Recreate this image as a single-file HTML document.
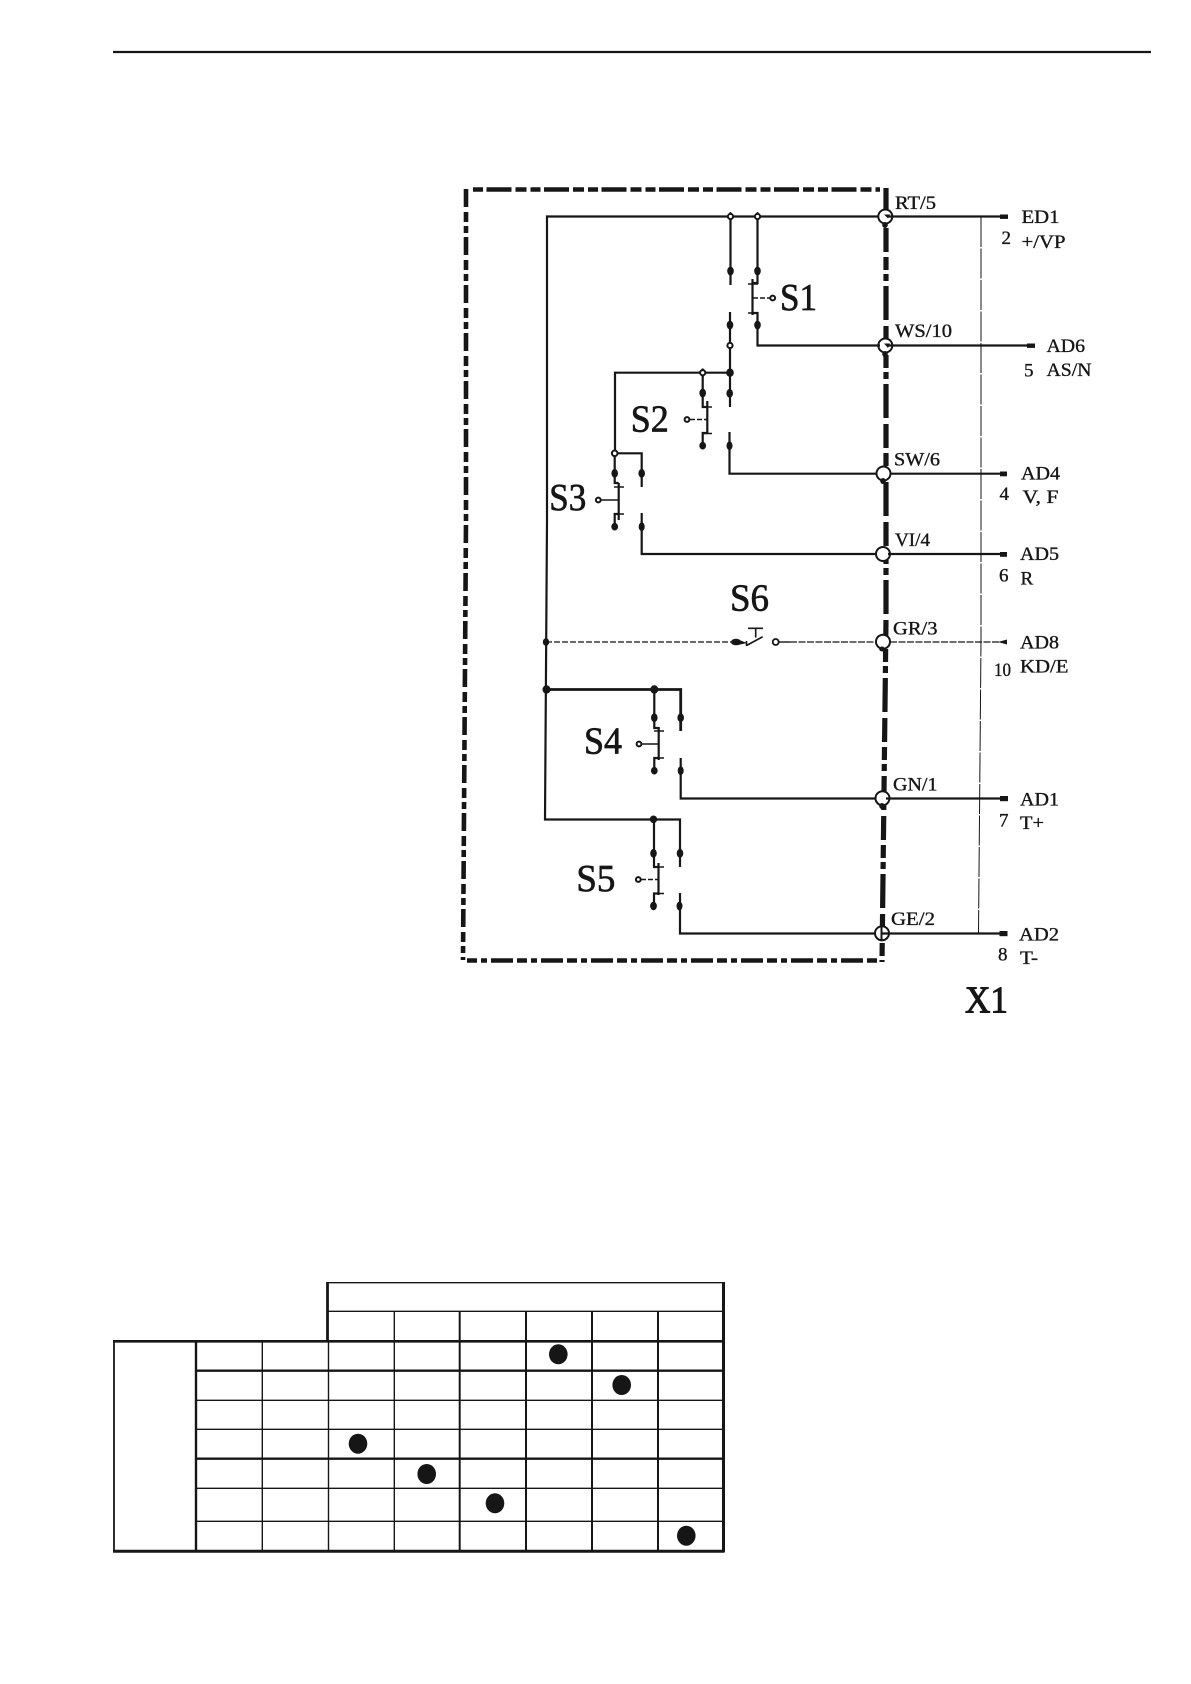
<!DOCTYPE html>
<html>
<head>
<meta charset="utf-8">
<style>
html,body{margin:0;padding:0;background:#fff;width:1191px;height:1684px;overflow:hidden}
svg{display:block}
text{font-family:"Liberation Serif",serif;fill:#161616;stroke:#161616}
.l{fill:none;stroke:#161616;stroke-width:2.2}
.t{font-size:19px;stroke-width:.35}
.b{font-size:38px;stroke-width:.7}
</style>
</head>
<body>
<svg width="1191" height="1684" viewBox="0 0 1191 1684" xmlns="http://www.w3.org/2000/svg">
<!-- header rule -->
<line x1="113" y1="52" x2="1151" y2="52" stroke="#161616" stroke-width="2.2"/>

<!-- dash-dot enclosure -->
<g fill="none" stroke="#161616">
<path d="M473 189.5H880" stroke-width="4.6" stroke-dasharray="10 3.5 25 4 11 4"/>
<path d="M466 189V520L463 960" stroke-width="4.6" stroke-dasharray="18 5 10 4 7 4"/>
<path d="M467 960.5H878" stroke-width="4.6" stroke-dasharray="10 4 6 4 22 4"/>
<path d="M886 188V620L882 962" stroke-width="5.2" stroke-dasharray="34 6 24 5 13 4 7 5"/>
</g>

<!-- thin vertical at right -->
<path d="M981 217V640L978.5 933" fill="none" stroke="#161616" stroke-width="1" stroke-dasharray="30 1.5"/>

<!-- connector nodes, white interior under the wires -->
<g fill="#fff" stroke="#161616" stroke-width="2">
<circle cx="885.3" cy="216.5" r="7"/>
<circle cx="885.3" cy="345.5" r="7"/>
<circle cx="883.5" cy="473.5" r="7"/>
<circle cx="883" cy="554" r="7"/>
<circle cx="883" cy="641.7" r="7"/>
<circle cx="882.5" cy="798.3" r="7"/>
<circle cx="882" cy="933.3" r="7"/>
</g>

<!-- main wiring -->
<g class="l">
<path d="M878 216.5H547V520L545 819.5H680V867"/>
<path d="M888 216.5H1002"/>
<path d="M654 819.5V867H658.5M658.5 863V895M658.5 893.5H654V906"/>
<path d="M680 893V933.5H876"/>
<path d="M882 933.5H1002"/>

<!-- S1 -->
<path d="M730.5 216.5V285"/>
<path d="M730 312V407"/>
<path d="M757.5 216.5V283H752.5M752.5 279V315M752.5 313H757.5V345.5H880"/>
<path d="M888 345.5H1030"/>
<path d="M748 284H758M748 313H757" stroke-width="1.4"/>
<path d="M753 298H770" stroke-width="1.5" stroke-dasharray="5 2"/>

<!-- S2 / branch -->
<path d="M730 372.7H615V453.3H641.7V487"/>
<path d="M702.7 372.7V407H707.3M707.3 401V434M707.3 433H702.7V446"/>
<path d="M702 407H712M702 433.5H712" stroke-width="1.4"/>
<path d="M690 419.5H707" stroke-width="1.5" stroke-dasharray="5 2"/>
<path d="M729.5 432V473.7H877"/>
<path d="M890 473.7H1002"/>

<!-- S3 -->
<path d="M614.7 453.3V483H618.7M618.7 483V520M618.7 514H614.7V527"/>
<path d="M614 487H624M614 514H624" stroke-width="1.4"/>
<path d="M601 500H618.7" stroke-width="1.5"/>
<path d="M641.7 513V554H877"/>
<path d="M888 554H1002"/>

<!-- S4 -->
<path d="M546 689.5H680.7V731" stroke-width="2.8"/>
<path d="M654.3 689.5V728H658.7M658.7 727V760M658.7 758H654.3V771"/>
<path d="M654 731H664M654 758H664" stroke-width="1.4"/>
<path d="M642 744H658.7" stroke-width="1.5"/>
<path d="M680.7 758V798.5H876"/>
<path d="M886 798.5H1002"/>

<!-- S5 details -->
<path d="M653 867H664M653 893.5H664" stroke-width="1.4"/>
<path d="M641 879.5H658" stroke-width="1.5" stroke-dasharray="5 2"/>
</g>

<!-- marks inside nodes -->
<g fill="#161616">
<path d="M884 214.5H890L888 218.5Z"/>
<path d="M884 343.5H890L888 348Z"/>
<ellipse cx="885" cy="225" rx="2.8" ry="3"/>
<ellipse cx="885" cy="354" rx="2.8" ry="3"/>
<ellipse cx="883" cy="481" rx="2.8" ry="3"/>
<ellipse cx="882" cy="806" rx="2.8" ry="3"/>
<ellipse cx="882" cy="649" rx="2.8" ry="2.5"/>
<rect x="880.5" y="923" width="2" height="18"/>
</g>

<!-- S6 line -->
<g fill="none" stroke="#161616">
<path d="M546 642H736" stroke-width="1.3" stroke-dasharray="6 2"/>
<path d="M790 642H876" stroke-width="1.3" stroke-dasharray="7 1.5"/>
<path d="M890 642H1004" stroke-width="1.3" stroke-dasharray="7 1.5"/>
<path d="M778 642H790" stroke-width="1.4"/>
<path d="M746.5 645.5L762.7 636.7M748 628.3H763M755.7 628.3V637.5" stroke-width="1.6"/>
<path d="M746.5 641V646" stroke-width="1.6"/>
</g>
<ellipse cx="736" cy="642" rx="5" ry="3.3" fill="#161616"/>
<path d="M738 639.5L747 643L738 645Z" fill="#161616"/>
<circle cx="775.7" cy="642" r="3" fill="#fff" stroke="#161616" stroke-width="1.8"/>

<!-- filled dots -->
<g fill="#161616">
<ellipse cx="730.5" cy="271" rx="3.3" ry="4.4"/>
<ellipse cx="757.5" cy="271" rx="3.3" ry="4.4"/>
<ellipse cx="730" cy="325" rx="3.3" ry="4.4"/>
<ellipse cx="757.5" cy="325" rx="3.3" ry="4.4"/>
<ellipse cx="729.7" cy="393.3" rx="3.3" ry="4.4"/>
<ellipse cx="702.7" cy="393" rx="3.3" ry="4.4"/>
<ellipse cx="702.7" cy="445.7" rx="3.4" ry="3.8"/>
<ellipse cx="729.5" cy="445.7" rx="3" ry="4.4"/>
<ellipse cx="614.7" cy="473.3" rx="3.3" ry="4.4"/>
<ellipse cx="641.7" cy="473.3" rx="3.3" ry="4.4"/>
<ellipse cx="614.7" cy="526.7" rx="3.4" ry="3.8"/>
<ellipse cx="641.7" cy="526.7" rx="3" ry="4.4"/>
<ellipse cx="546" cy="642" rx="3.2" ry="3.8"/>
<ellipse cx="546.5" cy="689.5" rx="4" ry="4.2"/>
<ellipse cx="654.3" cy="689.5" rx="4" ry="4.2"/>
<ellipse cx="654.3" cy="717.7" rx="3.3" ry="4.4"/>
<ellipse cx="680.7" cy="717.7" rx="3.3" ry="4.4"/>
<ellipse cx="654.3" cy="770.7" rx="3.4" ry="3.8"/>
<ellipse cx="680.7" cy="770.7" rx="3" ry="4.4"/>
<ellipse cx="653.5" cy="819.3" rx="3.7" ry="3.8"/>
<ellipse cx="653.5" cy="853.3" rx="3.3" ry="4.4"/>
<ellipse cx="680" cy="853.3" rx="3.3" ry="4.4"/>
<ellipse cx="653.5" cy="906" rx="3.4" ry="4.2"/>
<ellipse cx="679.5" cy="906" rx="3" ry="4.4"/>
<ellipse cx="730.5" cy="216.5" rx="2" ry="4.5"/>
<ellipse cx="757.5" cy="216.5" rx="2" ry="4.5"/>
<ellipse cx="730" cy="345.5" rx="2" ry="4.5"/>
<ellipse cx="730" cy="372.7" rx="2" ry="4.5"/>
<ellipse cx="702.7" cy="372.7" rx="2" ry="4.5"/>
<!-- terminals -->
<rect x="1000" y="214.5" width="8" height="4.4"/>
<rect x="1027" y="343.5" width="8" height="4.4"/>
<rect x="1000" y="471.5" width="7" height="4.8"/>
<rect x="1000" y="552" width="7" height="4.8"/>
<path d="M998 642L1007 639.5V644.5Z"/>
<rect x="1000" y="796" width="8" height="5.2"/>
<rect x="999.5" y="931" width="8" height="5.2"/>
</g>

<!-- small open junction dots -->
<g fill="#fff" stroke="#161616" stroke-width="2">
<circle cx="730.5" cy="216.5" r="2.6"/>
<circle cx="757.5" cy="216.5" r="2.6"/>
<circle cx="730" cy="345.5" r="2.6"/>
<circle cx="702.7" cy="372.7" r="2.6"/>
<circle cx="614.7" cy="453.3" r="2.8"/>
<circle cx="772.7" cy="298" r="2.4"/>
<circle cx="687" cy="419.5" r="2.4"/>
<circle cx="598.3" cy="500" r="2.4"/>
<circle cx="639" cy="744" r="2.4"/>
<circle cx="638.3" cy="879.5" r="2.4"/>
</g>
<ellipse cx="730" cy="372.7" rx="3.8" ry="4.2" fill="#161616"/>

<!-- small labels -->
<g class="t">
<text x="895" y="209" textLength="41" lengthAdjust="spacingAndGlyphs">RT/5</text>
<text x="1021.5" y="223" textLength="38" lengthAdjust="spacingAndGlyphs">ED1</text>
<text x="1001.5" y="244">2</text>
<text x="1021.5" y="248" textLength="44" lengthAdjust="spacingAndGlyphs">+/VP</text>
<text x="895" y="337" textLength="57" lengthAdjust="spacingAndGlyphs">WS/10</text>
<text x="1046.5" y="352" textLength="38.5" lengthAdjust="spacingAndGlyphs">AD6</text>
<text x="1024" y="376.7">5</text>
<text x="1046.5" y="376" textLength="45" lengthAdjust="spacingAndGlyphs">AS/N</text>
<text x="894" y="465.5" textLength="46" lengthAdjust="spacingAndGlyphs">SW/6</text>
<text x="1021" y="479.5" textLength="39" lengthAdjust="spacingAndGlyphs">AD4</text>
<text x="999.5" y="500">4</text>
<text x="1022.5" y="503" textLength="36" lengthAdjust="spacingAndGlyphs">V, F</text>
<text x="895" y="546" textLength="35" lengthAdjust="spacingAndGlyphs">VI/4</text>
<text x="1020" y="560" textLength="39" lengthAdjust="spacingAndGlyphs">AD5</text>
<text x="999" y="581.7">6</text>
<text x="1020.5" y="584.3">R</text>
<text x="893" y="634.3" textLength="44.5" lengthAdjust="spacingAndGlyphs">GR/3</text>
<text x="1020" y="648.3" textLength="39" lengthAdjust="spacingAndGlyphs">AD8</text>
<text x="994" y="676" textLength="17" lengthAdjust="spacingAndGlyphs">10</text>
<text x="1020" y="672.3" textLength="48.5" lengthAdjust="spacingAndGlyphs">KD/E</text>
<text x="893" y="790.7" textLength="44.5" lengthAdjust="spacingAndGlyphs">GN/1</text>
<text x="1020" y="805.7" textLength="39" lengthAdjust="spacingAndGlyphs">AD1</text>
<text x="999" y="826.7">7</text>
<text x="1020" y="829" textLength="24" lengthAdjust="spacingAndGlyphs">T+</text>
<text x="891" y="925" textLength="44" lengthAdjust="spacingAndGlyphs">GE/2</text>
<text x="1019" y="940.7" textLength="40" lengthAdjust="spacingAndGlyphs">AD2</text>
<text x="998" y="960.7">8</text>
<text x="1020" y="964" textLength="18" lengthAdjust="spacingAndGlyphs">T-</text>
</g>

<!-- big labels -->
<g class="b">
<text x="780" y="310" textLength="37" lengthAdjust="spacingAndGlyphs">S1</text>
<text x="630.7" y="431.7" textLength="38" lengthAdjust="spacingAndGlyphs">S2</text>
<text x="549.3" y="510" textLength="37" lengthAdjust="spacingAndGlyphs">S3</text>
<text x="730" y="610.7" textLength="39" lengthAdjust="spacingAndGlyphs">S6</text>
<text x="584" y="753.3" textLength="38" lengthAdjust="spacingAndGlyphs">S4</text>
<text x="576.4" y="891" textLength="39" lengthAdjust="spacingAndGlyphs">S5</text>
<text x="965" y="1012.3" textLength="43" lengthAdjust="spacingAndGlyphs" style="stroke-width:1">X1</text>
</g>

<!-- table -->
<g stroke="#161616" fill="none">
<path d="M328 1282.7H723" stroke-width="1.4"/>
<path d="M328 1311.3H723" stroke-width="1.4"/>
<path d="M113 1341.3H724" stroke-width="2.6"/>
<path d="M196 1370.7H723" stroke-width="2.4"/>
<path d="M196 1400.3H723" stroke-width="1.4"/>
<path d="M196 1429.3H723" stroke-width="1.4"/>
<path d="M196 1458.7H723" stroke-width="2.4"/>
<path d="M196 1488.3H723" stroke-width="1.4"/>
<path d="M196 1521.3H723" stroke-width="1.4"/>
<path d="M113 1551.3H724.5" stroke-width="3"/>
<path d="M114 1341V1552" stroke-width="1.8"/>
<path d="M196 1341V1551" stroke-width="2.4"/>
<path d="M262.3 1341V1551" stroke-width="1.4"/>
<path d="M328.5 1341V1551" stroke-width="1.4"/>
<path d="M327.5 1282V1341" stroke-width="2.8"/>
<path d="M394.3 1311V1551" stroke-width="1.4"/>
<path d="M459.7 1311V1551" stroke-width="2"/>
<path d="M526 1311V1551" stroke-width="2"/>
<path d="M592 1311V1551" stroke-width="2"/>
<path d="M658 1311V1551" stroke-width="2"/>
<path d="M723.5 1282V1552" stroke-width="3"/>
</g>
<g fill="#161616">
<ellipse cx="558.3" cy="1354.3" rx="9.3" ry="10"/>
<ellipse cx="621.7" cy="1385" rx="9.3" ry="10"/>
<ellipse cx="358" cy="1443.7" rx="9.3" ry="10"/>
<ellipse cx="426.7" cy="1474" rx="9.3" ry="10"/>
<ellipse cx="495" cy="1503.3" rx="9.3" ry="10"/>
<ellipse cx="686.3" cy="1535.7" rx="9.3" ry="10"/>
</g>
</svg>
</body>
</html>
